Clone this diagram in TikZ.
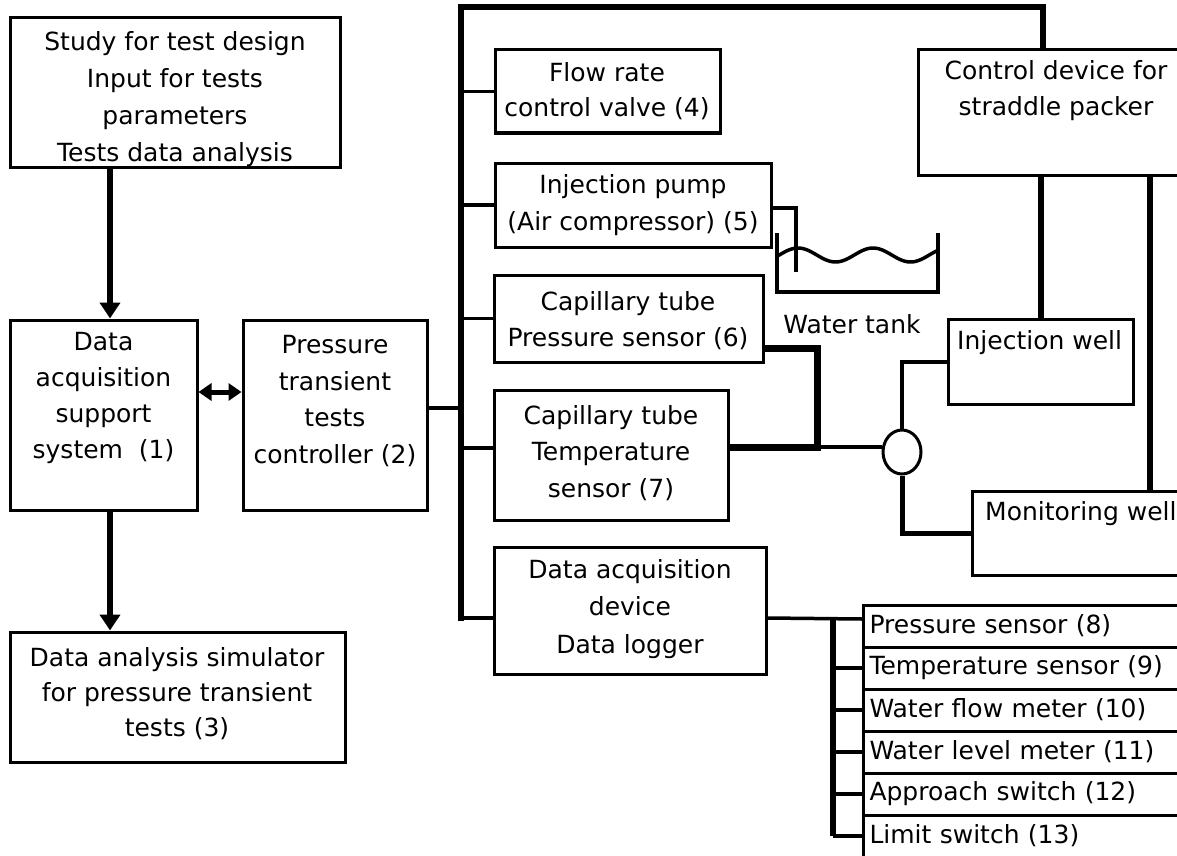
\documentclass[tikz,border=0pt]{standalone}
\usepackage{fontspec}
\setmainfont{DejaVu Sans}
\usetikzlibrary{arrows.meta,shapes.geometric}
\begin{document}
\begin{tikzpicture}[x=1pt,y=-1pt,
  box/.style={draw, line width=3pt, inner sep=0pt, rectangle},
  txt/.style={font=\fontsize{25}{36}\selectfont, align=center, inner sep=0pt},
  rowbox/.style={draw, line width=3pt, rectangle, minimum width=332pt, minimum height=42pt,
     text width=320pt, align=left, inner xsep=6pt, inner ysep=0pt, anchor=west,
     font=\fontsize{25}{30}\selectfont},
  wire/.style={line width=3.5pt},
  busline/.style={line width=6pt},
  pipeline/.style={line width=7pt},
  arr/.style={line width=6pt, -{Triangle[length=16pt,width=20pt]}},
  darr/.style={line width=5pt, {Triangle[length=13pt,width=17pt]}-{Triangle[length=13pt,width=17pt]}},
]
\useasboundingbox (0,0) rectangle (1177,856);
\fill[white] (0,0) rectangle (1177,856);
\clip (0,0) rectangle (1177,856);

% ---------- boxes ----------
\node[box, minimum width=330pt, minimum height=149pt] (study) at (175,92.5) {};
\node[box, minimum width=187pt, minimum height=190pt] (support) at (103.5,415) {};
\node[box, minimum width=184pt, minimum height=190pt] (ctrl) at (335,415) {};
\node[box, minimum width=335pt, minimum height=130pt] (sim) at (177.5,697) {};

\node[box, minimum width=225pt, minimum height=83pt] (flow) at (607.5,91.5) {};
\node[box, minimum width=276pt, minimum height=84pt] (pump) at (633,205) {};
\node[box, minimum width=269pt, minimum height=87pt] (cappress) at (628.5,318.5) {};
\node[box, minimum width=234pt, minimum height=130pt] (captemp) at (611,455) {};
\node[box, minimum width=272pt, minimum height=127pt] (daqdev) at (630,610.5) {};

\node[box, minimum width=276pt, minimum height=125pt] (control) at (1056,112.5) {};
\node[box, minimum width=185pt, minimum height=85pt] (injwell) at (1040.5,361.5) {};
\node[box, minimum width=222pt, minimum height=84pt] (monwell) at (1083,533) {};

\node[draw, line width=3pt, ellipse, minimum width=38pt, minimum height=44pt, inner sep=0pt, fill=white] (valve) at (902,452) {};

% ---------- texts ----------
\node[txt, font=\fontsize{25}{37}\selectfont] (tstudy) at (175,99) {Study for test design\\Input for tests\\parameters\\Tests data analysis};
\node[txt] (tsupport) at (103.5,398) {Data\\acquisition\\support\\system~~(1)};
\node[txt, font=\fontsize{25}{36.5}\selectfont] (tctrl) at (335,401) {Pressure\\transient\\tests\\controller (2)};
\node[txt, font=\fontsize{25}{35}\selectfont] (tsim) at (177,694) {Data analysis simulator\\for pressure transient\\tests (3)};
\node[txt, font=\fontsize{25}{35}\selectfont] (tflow) at (607,91) {Flow rate\\control valve (4)};
\node[txt, font=\fontsize{25}{37}\selectfont] (tpump) at (633,205) {Injection pump\\(Air compressor) (5)};
\node[txt] (tcappress) at (628,321) {Capillary tube\\Pressure sensor (6)};
\node[txt, font=\fontsize{25}{36.5}\selectfont] (tcaptemp) at (611,453) {Capillary tube\\Temperature\\sensor (7)};
\node[txt, font=\fontsize{25}{37.5}\selectfont] (tdaq) at (630,609) {Data acquisition\\device\\Data logger};
\node[txt] (tcontrol) at (1056,91) {Control device for\\straddle packer};
\node[txt, anchor=west] (tinj) at (957,343) {Injection well};
\node[txt, anchor=west] (tmon) at (985,514) {Monitoring well};
\node[txt] (ttank) at (852,324) {Water tank};

% ---------- sensor table ----------
\node[rowbox] (s1) at (862,626) {Pressure sensor (8)};
\node[rowbox] (s2) at (862,668) {Temperature sensor (9)};
\node[rowbox] (s3) at (862,710) {Water flow meter (10)};
\node[rowbox] (s4) at (862,752) {Water level meter (11)};
\node[rowbox] (s5) at (862,794) {Approach switch (12)};
\node[rowbox] (s6) at (862,836) {Limit switch (13)};

% ---------- left arrows ----------
\draw[arr] ([xshift=6.5pt]support.north |- study.south) -- ([xshift=6.5pt]support.north);
\draw[arr] ([xshift=6.5pt]support.south) -- ([xshift=6.5pt]support.south |- sim.north);
\draw[darr] ([yshift=23pt]support.east) -- ([yshift=23pt]ctrl.west);

% ---------- main bus ----------
\coordinate (busTop) at (461,7);
\coordinate (busBot) at (461,621);
\coordinate (topR) at (1043,7);
\draw[wire] ([yshift=7pt]ctrl.east) -- ([yshift=7pt]ctrl.east -| busTop);
\draw[busline] (busBot) -- (busTop) -- (topR) -- (control.north -| topR);
\draw[wire] (flow.west -| busTop) -- (flow.west);
\draw[wire] (pump.west -| busTop) -- (pump.west);
\draw[wire] (cappress.west -| busTop) -- (cappress.west);
\draw[wire] ([yshift=7pt]captemp.west -| busTop) -- ([yshift=7pt]captemp.west);
\draw[wire] ([yshift=-7.5pt]daqdev.west -| busTop) -- ([yshift=-7.5pt]daqdev.west);

% ---------- control device to wells ----------
\draw[busline] (control.south -| injwell.north) -- (injwell.north);
\draw[busline] ([xshift=67pt]monwell.north |- control.south) -- ([xshift=67pt]monwell.north);

% ---------- pump pipe and water tank ----------
\coordinate (pipeEnd) at (796,272);
\draw[line width=4pt] ([yshift=-3pt]pump.east) -| (pipeEnd);
\draw[line width=4.5pt] (777,233) -- (777,292) -- (938,292) -- (938,233);
\draw[line width=3.5pt] plot[domain=777:938, samples=80, smooth] (\x, {255-7*cos(4.8*(\x-873))});

% ---------- sensors to valve ----------
\coordinate (jn) at (817,447);
\draw[pipeline] ([yshift=-29.5pt]cappress.east) -| (jn) -- ([yshift=8pt]captemp.east);
\draw[wire] (jn) -- (jn -| valve.west);
\draw[line width=4pt] (valve.north) |- (injwell.west);
\draw[line width=5pt] (valve.south) |- (monwell.west);

% ---------- data logger to sensor table ----------
\coordinate (sbus) at (833,619);
\draw[wire] ([yshift=-7.5pt]daqdev.east) -- ([yshift=7pt]s1.west);
\draw[busline] (sbus) -- (sbus |- s6.west);
\draw[wire] (sbus |- s2.west) -- (s2.west);
\draw[wire] (sbus |- s3.west) -- (s3.west);
\draw[wire] (sbus |- s4.west) -- (s4.west);
\draw[wire] (sbus |- s5.west) -- (s5.west);
\draw[wire] (sbus |- s6.west) -- (s6.west);
\end{tikzpicture}
\end{document}
